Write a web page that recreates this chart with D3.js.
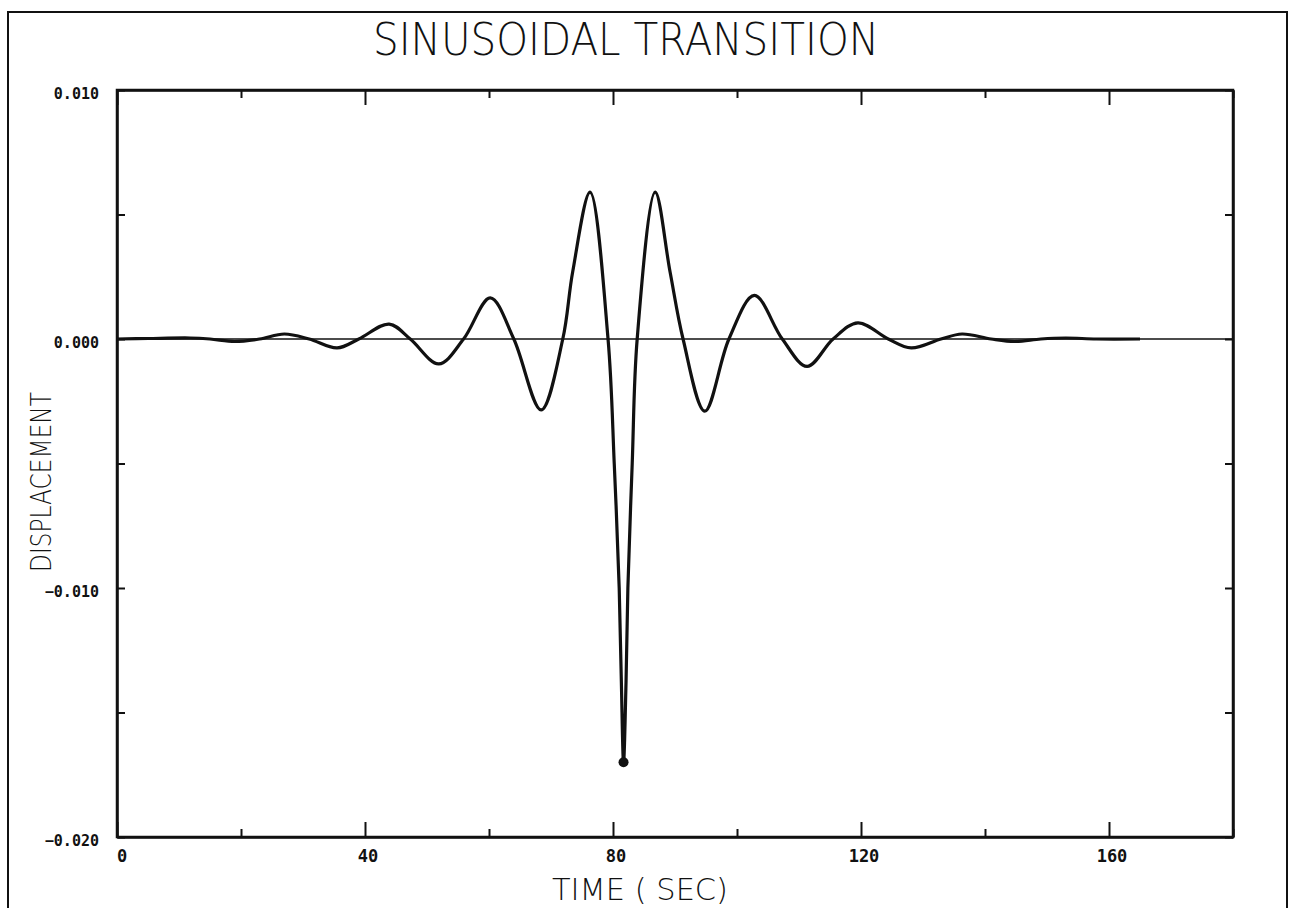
<!DOCTYPE html>
<html>
<head>
<meta charset="utf-8">
<script src="https://cdn.jsdelivr.net/npm/d3@7"></script>
<style>
  body { margin: 0; background: #fff; }
  svg { display: block; }
</style>
</head>
<body>
<div id="svg-container"></div>
<script>
// Readings from the plot (time in seconds, displacement)
const timeSec = [0, 5, 11.8, 15, 19, 23, 27, 31, 35.5, 39, 43.9, 47.3, 51.9, 55.9, 60.2, 64, 68.4, 71.9, 73.5, 76.3,
    79.2, 80.2, 81.0, 81.35, 81.7, 82.1, 82.4, 83.1, 83.9,
    86.8, 89.2, 91.3, 94.8, 98.7, 102.8, 107.3, 111.3, 115.5, 119.5, 124.4, 128.1, 132.9, 136.3, 141, 144.8, 149, 153, 158, 165];
const displacement = [0, 0.00002, 0.00004, 0, -0.0001, 0, 0.0002, 0, -0.00036, 0, 0.0006, 0, -0.001, 0, 0.00165, 0, -0.00285, 0, 0.0027, 0.0059,
    0, -0.005, -0.01, -0.0138, -0.0170, -0.0138, -0.01, -0.005, 0,
    0.0059, 0.0027, 0, -0.0029, 0, 0.00175, 0, -0.0011, 0, 0.00065, 0, -0.00036, 0, 0.0002, 0, -0.0001, 0, 0.00004, 0, 0];

// Marked minimum
const minPoint = { t: 81.7, v: -0.0170 };

// Axis ticks
const xTicks = [0, 20, 40, 60, 80, 100, 120, 140, 160, 180];
const xLabels = [0, 40, 80, 120, 160];
const yTicks = [-0.02, -0.015, -0.01, -0.005, 0, 0.005, 0.01];
const yLabels = [-0.02, -0.01, 0, 0.01];

const width = 1296, height = 908;
const plot = { left: 117, right: 1233, top: 90, bottom: 837 };

const svg = d3.select("#svg-container")
    .append("svg")
    .attr("width", width)
    .attr("height", height);

// Outer page frame
svg.append("rect")
    .attr("x", 8)
    .attr("y", 12)
    .attr("width", 1279)
    .attr("height", 920)
    .attr("fill", "none")
    .attr("stroke", "#111")
    .attr("stroke-width", 2);

const x = d3.scaleLinear().domain([0, 180]).range([plot.left, plot.right]);
const y = d3.scaleLinear().domain([-0.02, 0.01]).range([plot.bottom, plot.top]);

const isMajorX = d => d % 40 === 0;

// Bottom axis (ticks pointing inward)
const bottomAxis = svg.append("g")
    .attr("transform", `translate(0, ${plot.bottom})`)
    .call(d3.axisBottom(x).tickValues(xTicks).tickSize(-8).tickSizeOuter(0).tickFormat(""));
bottomAxis.selectAll(".tick line").attr("y2", d => isMajorX(d) ? -15 : -8);

// Top axis
const topAxis = svg.append("g")
    .attr("transform", `translate(0, ${plot.top})`)
    .call(d3.axisTop(x).tickValues(xTicks).tickSize(-8).tickSizeOuter(0).tickFormat(""));
topAxis.selectAll(".tick line").attr("y2", d => isMajorX(d) ? 15 : 8);

// Left and right axes
svg.append("g")
    .attr("transform", `translate(${plot.left}, 0)`)
    .call(d3.axisLeft(y).tickValues(yTicks).tickSize(-8).tickSizeOuter(0).tickFormat(""));
svg.append("g")
    .attr("transform", `translate(${plot.right}, 0)`)
    .call(d3.axisRight(y).tickValues(yTicks).tickSize(-8).tickSizeOuter(0).tickFormat(""));

svg.selectAll(".domain").attr("stroke", "#111").attr("stroke-width", 2.5);
svg.selectAll(".tick line").attr("stroke", "#111").attr("stroke-width", 2);

// Plot box corners closed
svg.append("rect")
    .attr("x", plot.left)
    .attr("y", plot.top)
    .attr("width", plot.right - plot.left)
    .attr("height", plot.bottom - plot.top)
    .attr("fill", "none")
    .attr("stroke", "#111")
    .attr("stroke-width", 2.5);

// Tick labels
svg.append("g")
    .selectAll("text")
    .data(xLabels)
    .enter()
    .append("text")
    .attr("x", d => x(d) + (d === 0 ? 5 : 3))
    .attr("y", 862)
    .attr("text-anchor", "middle")
    .attr("font-family", "DejaVu Sans Mono, monospace")
    .attr("font-weight", "bold")
    .attr("font-size", "17px")
    .attr("fill", "#111")
    .text(d => d);

svg.append("g")
    .selectAll("text")
    .data(yLabels)
    .enter()
    .append("text")
    .attr("x", 99)
    .attr("y", d => y(d) + 9)
    .attr("text-anchor", "end")
    .attr("font-family", "DejaVu Sans Mono, monospace")
    .attr("font-weight", "bold")
    .attr("font-size", "15px")
    .attr("fill", "#111")
    .text(d => d3.format(".3f")(d));

// Zero reference line
svg.append("line")
    .attr("x1", x(0))
    .attr("x2", x(180))
    .attr("y1", y(0))
    .attr("y2", y(0))
    .attr("stroke", "#111")
    .attr("stroke-width", 1.6);

// Displacement curve
const points = timeSec.map((t, i) => [t, displacement[i]]);
const line = d3.line()
    .x(d => x(d[0]))
    .y(d => y(d[1]))
    .curve(d3.curveCatmullRom.alpha(0.5));

svg.append("path")
    .datum(points)
    .attr("d", line)
    .attr("fill", "none")
    .attr("stroke", "#111")
    .attr("stroke-width", 3.2)
    .attr("stroke-linejoin", "round");

svg.append("circle")
    .attr("cx", x(minPoint.t))
    .attr("cy", y(minPoint.v))
    .attr("r", 5)
    .attr("fill", "#111");

// Titles
svg.append("text")
    .attr("x", 626)
    .attr("y", 55)
    .attr("text-anchor", "middle")
    .attr("font-family", "DejaVu Sans, sans-serif")
    .attr("font-weight", 200)
    .attr("font-size", "44px")
    .attr("textLength", 506)
    .attr("lengthAdjust", "spacingAndGlyphs")
    .attr("fill", "#111")
    .text("SINUSOIDAL TRANSITION");

svg.append("text")
    .attr("x", 640)
    .attr("y", 900)
    .attr("text-anchor", "middle")
    .attr("font-family", "DejaVu Sans, sans-serif")
    .attr("font-weight", 200)
    .attr("font-size", "30px")
    .attr("textLength", 176)
    .attr("lengthAdjust", "spacingAndGlyphs")
    .attr("fill", "#111")
    .text("TIME ( SEC)");

svg.append("text")
    .attr("transform", "translate(51, 482) rotate(-90)")
    .attr("text-anchor", "middle")
    .attr("font-family", "DejaVu Sans, sans-serif")
    .attr("font-weight", 200)
    .attr("font-size", "28px")
    .attr("textLength", 180)
    .attr("lengthAdjust", "spacingAndGlyphs")
    .attr("fill", "#111")
    .text("DISPLACEMENT");
</script>
</body>
</html>
